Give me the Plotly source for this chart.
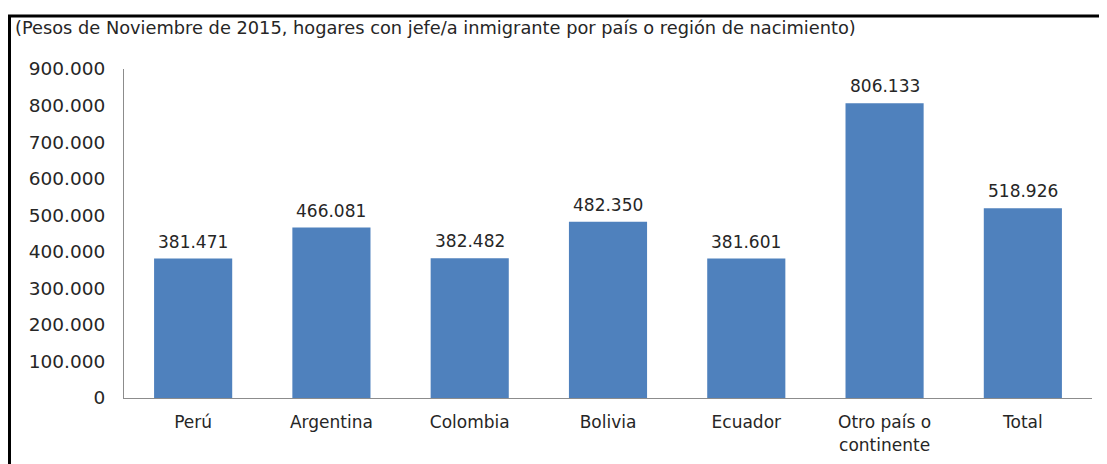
import plotly.graph_objects as go

# data
categories = ["Perú", "Argentina", "Colombia", "Bolivia", "Ecuador",
              "Otro país o<br>continente", "Total"]
ingreso = [381471, 466081, 382482, 482350, 381601, 806133, 518926]
y_ticks = [0, 100000, 200000, 300000, 400000, 500000, 600000, 700000, 800000, 900000]

subtitle = "(Pesos de Noviembre de 2015, hogares con jefe/a inmigrante por país o región de nacimiento)"

FONT = "DejaVu Sans"
# page body has an 8px margin, so the figure is a bit smaller and
# everything is placed in page pixels minus that offset
OFF = 8
W, H = 1107 - 2 * OFF, 464 - OFF
L, T = 124 - OFF, 69 - OFF
pw, ph = 968, 329
R = W - L - pw
B = H - T - ph


def px_x(x):
    return (x - OFF - L) / pw


def px_y(y):
    return (T + ph - (y - OFF)) / ph


fig = go.Figure()
fig.add_trace(go.Bar(
    x=categories,
    y=ingreso,
    marker_color="#4F81BD",
    marker_line_width=0,
))

# value labels above the bars
for cat, v in zip(categories, ingreso):
    fig.add_annotation(
        x=cat, y=v, text=f"{v:,}".replace(",", "."),
        xanchor="center", yanchor="bottom", yshift=5,
        showarrow=False, font=dict(family=FONT, size=17, color="#262626"),
    )

fig.update_layout(
    width=W, height=H,
    margin=dict(l=L, r=R, t=T, b=B, autoexpand=False),
    paper_bgcolor="white",
    plot_bgcolor="white",
    separators=",.",
    bargap=0.435,
    showlegend=False,
    font=dict(family=FONT, size=17, color="#262626"),
)

fig.update_yaxes(
    range=[0, 900000],
    tickvals=y_ticks,
    tickformat=",.0f",
    showgrid=False,
    zeroline=False,
    showline=True,
    linecolor="#8c8c8c",
    linewidth=1,
    ticks="",
    automargin=False,
    ticklabelstandoff=14,
    tickfont=dict(family=FONT, size=18.5, color="#262626"),
)
fig.update_xaxes(
    showgrid=False,
    showline=True,
    linecolor="#8c8c8c",
    linewidth=1,
    ticks="",
    automargin=False,
    ticklabelstandoff=9,
    tickfont=dict(family=FONT, size=17, color="#262626"),
)

# subtitle
fig.add_annotation(
    text=subtitle, xref="paper", yref="paper",
    x=px_x(13), y=px_y(28), xanchor="left", yanchor="middle",
    showarrow=False, font=dict(family=FONT, size=17.8, color="#262626"),
)

# black frame around the chart box (top and left edges)
fig.add_shape(type="line", xref="paper", yref="paper",
              x0=px_x(8), x1=px_x(1107), y0=px_y(16), y1=px_y(16),
              line=dict(color="black", width=3))
fig.add_shape(type="line", xref="paper", yref="paper",
              x0=px_x(9.5), x1=px_x(9.5), y0=px_y(16), y1=px_y(464),
              line=dict(color="black", width=3))

fig.write_html("out.html")
